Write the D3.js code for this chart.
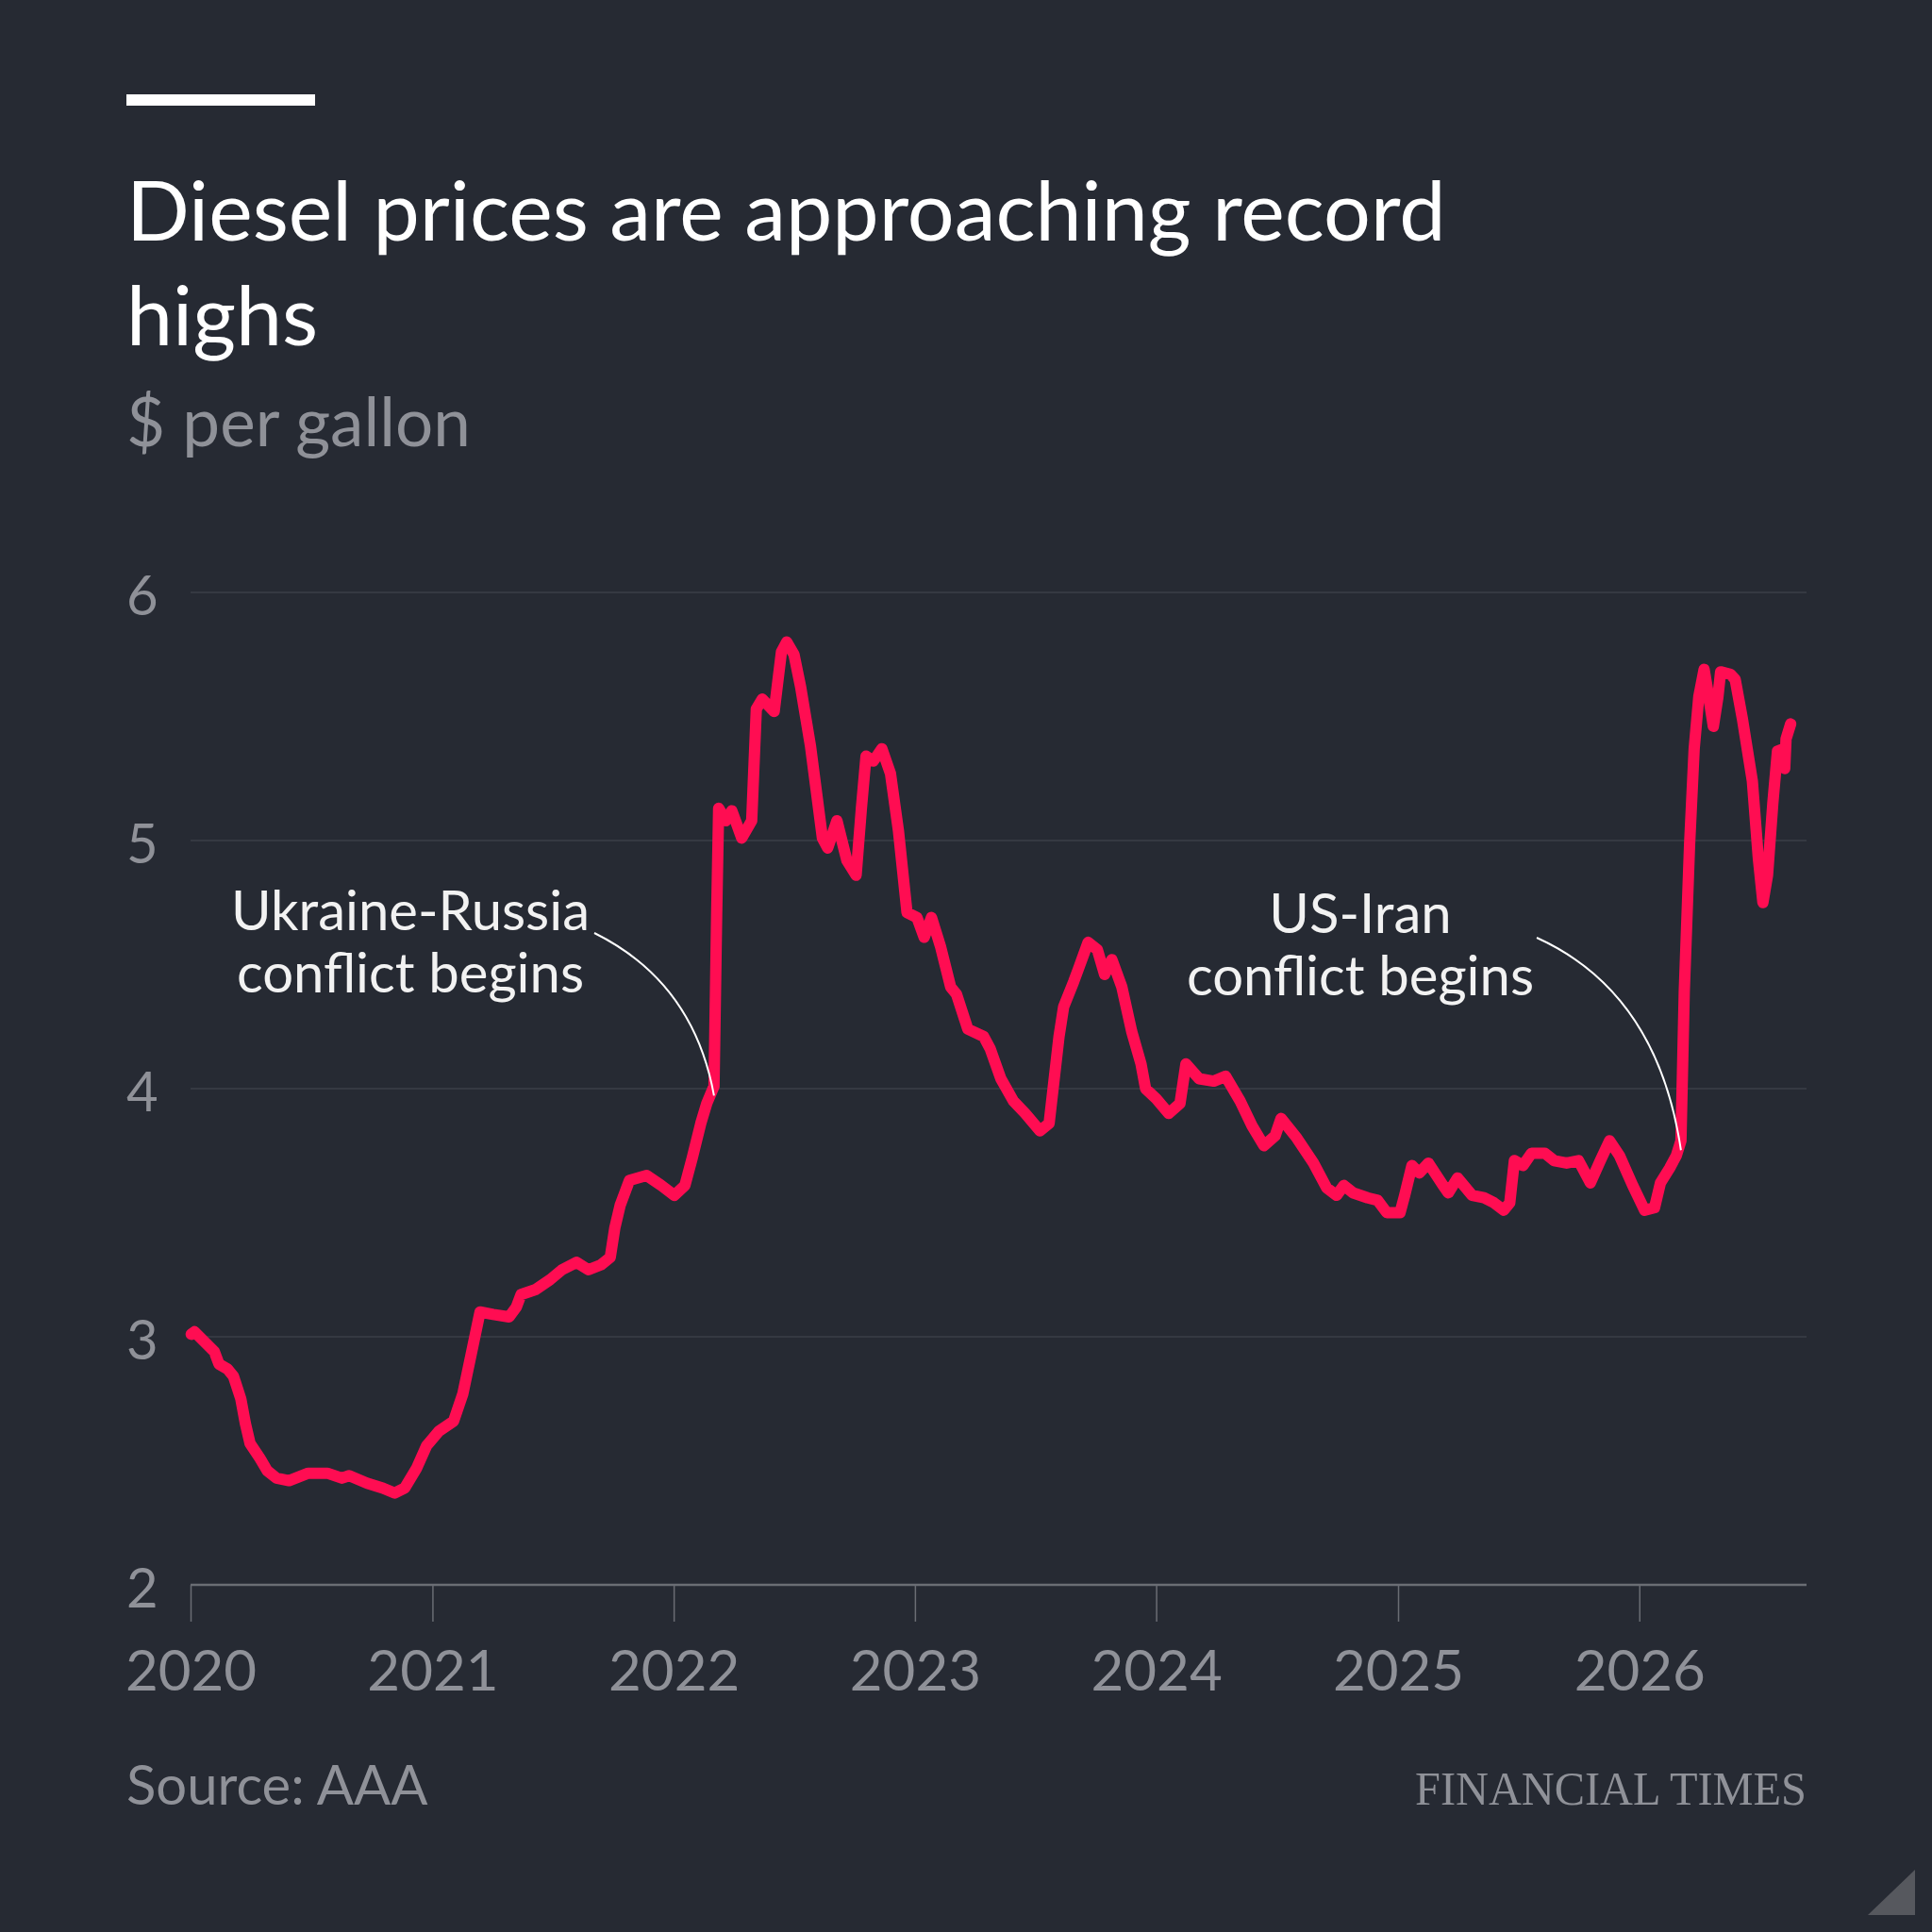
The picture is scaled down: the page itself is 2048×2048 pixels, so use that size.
<!DOCTYPE html>
<html>
<head>
<meta charset="utf-8">
<script src="https://cdn.jsdelivr.net/npm/d3@7"></script>
<style>
  html, body { margin: 0; padding: 0; background: #262a33; }
  svg { display: block; }
</style>
</head>
<body>
<script>
// weekly-ish readings of the AAA diesel average, $ per gallon
var dates = [
  "2020-01-02","2020-01-07","2020-01-22","2020-02-06","2020-02-13","2020-02-26","2020-03-06","2020-03-17",
  "2020-03-24","2020-03-31","2020-04-15","2020-04-26","2020-05-10","2020-05-29","2020-06-27","2020-07-26",
  "2020-08-17","2020-08-28","2020-09-24","2020-10-18","2020-11-05","2020-11-20","2020-12-08","2020-12-23",
  "2021-01-11","2021-02-02","2021-02-16","2021-03-03","2021-03-14","2021-04-03","2021-04-27","2021-05-08",
  "2021-05-15","2021-06-06","2021-06-28","2021-07-16","2021-08-07","2021-08-25","2021-09-13","2021-09-27",
  "2021-10-04","2021-10-12","2021-10-26","2021-11-21","2021-12-13",
  "2022-01-02","2022-01-18","2022-01-29","2022-02-11","2022-02-20","2022-03-03","2022-03-07","2022-03-10",
  "2022-03-21","2022-03-30","2022-04-14","2022-04-29","2022-05-06","2022-05-15","2022-06-02","2022-06-13",
  "2022-06-21","2022-07-02","2022-07-12","2022-07-27","2022-08-14","2022-08-22","2022-09-05","2022-09-20",
  "2022-10-04","2022-10-12","2022-10-19","2022-10-30","2022-11-12","2022-11-25","2022-12-07","2022-12-20",
  "2023-01-04","2023-01-15","2023-01-26","2023-02-09","2023-02-24","2023-03-05","2023-03-22","2023-04-15",
  "2023-04-25","2023-05-11","2023-05-30","2023-06-17","2023-07-09","2023-07-23","2023-08-07","2023-08-14",
  "2023-08-29","2023-09-05","2023-09-20","2023-10-04","2023-10-15","2023-10-26","2023-11-10","2023-11-25",
  "2023-12-09","2023-12-16",
  "2024-01-01","2024-01-20","2024-02-06","2024-02-15","2024-03-06","2024-03-28","2024-04-15","2024-05-07",
  "2024-05-25","2024-06-12","2024-06-29","2024-07-08","2024-08-01","2024-08-26","2024-09-15","2024-09-30",
  "2024-10-11","2024-10-25","2024-11-16","2024-12-01","2024-12-15",
  "2025-01-04","2025-01-11","2025-01-22","2025-02-02","2025-02-16","2025-03-10","2025-03-18","2025-04-01",
  "2025-04-23","2025-05-11","2025-05-26","2025-06-10","2025-06-19","2025-06-26","2025-07-09","2025-07-22",
  "2025-08-11","2025-08-25","2025-09-13","2025-10-01","2025-10-19","2025-11-03","2025-11-17","2025-12-02",
  "2025-12-22",
  "2026-01-09","2026-01-24","2026-02-02","2026-02-16","2026-02-26","2026-03-05","2026-03-10","2026-03-18",
  "2026-03-25","2026-04-01","2026-04-09","2026-04-16","2026-04-23","2026-04-30","2026-05-04","2026-05-19",
  "2026-05-26","2026-06-06","2026-06-21","2026-06-30","2026-07-07","2026-07-14","2026-07-22","2026-07-29",
  "2026-08-07","2026-08-09","2026-08-11","2026-08-18"
];
var prices = [
  3.01,3.02,2.98,2.94,2.89,2.87,2.84,2.75,
  2.65,2.57,2.51,2.46,2.43,2.42,2.45,2.45,
  2.43,2.44,2.41,2.39,2.37,2.39,2.47,2.56,
  2.62,2.66,2.77,2.96,3.10,3.09,3.08,3.12,
  3.17,3.19,3.23,3.27,3.30,3.27,3.29,3.32,
  3.44,3.53,3.63,3.65,3.61,
  3.57,3.61,3.72,3.86,3.94,4.01,4.70,5.13,
  5.08,5.12,5.01,5.08,5.53,5.57,5.52,5.76,
  5.80,5.75,5.62,5.38,5.01,4.97,5.08,4.92,
  4.86,5.13,5.34,5.32,5.37,5.27,5.04,4.71,
  4.69,4.61,4.69,4.57,4.41,4.38,4.24,4.21,
  4.16,4.04,3.95,3.90,3.83,3.86,4.21,4.33,
  4.43,4.48,4.59,4.56,4.46,4.52,4.41,4.23,
  4.10,4.00,
  3.96,3.90,3.94,4.10,4.04,4.03,4.05,3.95,
  3.85,3.77,3.81,3.88,3.80,3.70,3.60,3.57,
  3.61,3.58,3.56,3.55,3.50,
  3.50,3.57,3.69,3.66,3.70,3.61,3.58,3.64,
  3.57,3.56,3.54,3.51,3.54,3.71,3.69,3.74,
  3.74,3.71,3.70,3.71,3.62,3.71,3.79,3.73,
  3.61,
  3.51,3.52,3.62,3.68,3.73,3.79,4.39,4.98,
  5.37,5.58,5.69,5.58,5.46,5.58,5.68,5.67,
  5.65,5.49,5.24,4.93,4.75,4.86,5.15,5.36,
  5.37,5.29,5.41,5.47
];

var yTicks = [2, 3, 4, 5, 6];
var yearTicks = ["2020","2021","2022","2023","2024","2025","2026"];

// annotations: label lines + the date the pointer lands on
var noteLabels = [["Ukraine-Russia", "conflict begins"], ["US-Iran", "conflict begins"]];
var noteDates = ["2022-03-03", "2026-03-05"];

var titleLines = ["Diesel prices are approaching record", "highs"];
var subtitle = "$ per gallon";
var source = "Source: AAA";

var W = 2048, H = 2048;
// note: "top" is taken by window.top, so plot edges get their own names
var plotL = 202, plotR = 1915, plotT = 628, plotB = 1680;

var parseDate = d3.timeParse("%Y-%m-%d");
var data = dates.map(function(d, i) { return {date: parseDate(d), value: prices[i]}; });

var x = d3.scaleTime()
    .domain([parseDate("2020-01-01"), parseDate("2026-09-11")])
    .range([plotL, plotR]);
var y = d3.scaleLinear().domain([2, 6]).range([plotB, plotT]);

var svg = d3.select("body").append("svg")
    .attr("width", W)
    .attr("height", H);

svg.append("rect").attr("width", W).attr("height", H).attr("fill", "#262a33");

var sans = "Lato, 'Noto Sans', sans-serif";
var grey = "#8f9198";

// header bar
svg.append("rect")
    .attr("x", 134).attr("y", 100)
    .attr("width", 200).attr("height", 12)
    .attr("fill", "#ffffff");

svg.selectAll("text.title")
    .data(titleLines)
  .enter().append("text")
    .attr("class", "title")
    .attr("x", 134)
    .attr("y", function(d, i) { return 255 + i * 111; })
    .attr("fill", "#ffffff")
    .style("font-family", sans)
    .style("font-size", "88px")
    .text(function(d) { return d; });

svg.append("text")
    .attr("x", 134).attr("y", 473)
    .attr("fill", grey)
    .style("font-family", sans)
    .style("font-size", "71px")
    .text(subtitle);

// gridlines
svg.append("g")
    .selectAll("line")
    .data(yTicks.filter(function(t) { return t > 2; }))
  .enter().append("line")
    .attr("x1", plotL).attr("x2", plotR)
    .attr("y1", function(d) { return y(d); })
    .attr("y2", function(d) { return y(d); })
    .attr("stroke", "#3b3f48")
    .attr("stroke-width", 1.5);

// y labels
svg.append("g")
    .selectAll("text")
    .data(yTicks)
  .enter().append("text")
    .attr("x", 134)
    .attr("y", function(d) { return y(d) + 24; })
    .attr("fill", grey)
    .style("font-family", sans)
    .style("font-size", "58px")
    .text(function(d) { return d; });

// x axis
var xAxis = d3.axisBottom(x)
    .tickValues(yearTicks.map(function(t) { return parseDate(t + "-01-01"); }))
    .tickFormat(d3.timeFormat("%Y"))
    .tickSize(39)
    .tickPadding(30);

var gx = svg.append("g")
    .attr("transform", "translate(0," + plotB + ")")
    .call(xAxis);
gx.select(".domain").remove();
gx.selectAll(".tick line").attr("stroke", "#6a6d74").attr("stroke-width", 1.5);
gx.selectAll(".tick text")
    .attr("fill", grey)
    .style("font-family", sans)
    .style("font-size", "60px");

svg.append("line")
    .attr("x1", plotL).attr("x2", plotR)
    .attr("y1", plotB).attr("y2", plotB)
    .attr("stroke", "#6a6d74")
    .attr("stroke-width", 2.5);

// the price line
var valueline = d3.line()
    .x(function(d) { return x(d.date); })
    .y(function(d) { return y(d.value); });

svg.append("path")
    .datum(data)
    .attr("d", valueline)
    .attr("fill", "none")
    .attr("stroke", "#ff0d52")
    .attr("stroke-width", 12)
    .attr("stroke-linejoin", "round")
    .attr("stroke-linecap", "round");

// annotations
var noteAnchors = [[435, 986], [1442, 989]];
var noteStarts = [[630, 989], [1629, 994]];
var noteBends = [[735, 1041], [1757, 1052]];

noteLabels.forEach(function(lines, k) {
    var g = svg.append("g");
    g.selectAll("text")
        .data(lines)
      .enter().append("text")
        .attr("x", noteAnchors[k][0])
        .attr("y", function(d, i) { return noteAnchors[k][1] + i * 66; })
        .attr("text-anchor", "middle")
        .attr("fill", "#f2f2f2")
        .style("font-family", sans)
        .style("font-size", "58px")
        .text(function(d) { return d; });

    var d0 = parseDate(noteDates[k]);
    var end = [x(d0), y(data.find(function(p) { return p.date >= d0; }).value) + 10];
    var p = d3.path();
    p.moveTo(noteStarts[k][0], noteStarts[k][1]);
    p.quadraticCurveTo(noteBends[k][0], noteBends[k][1], end[0], end[1]);
    g.append("path")
        .attr("d", p.toString())
        .attr("fill", "none")
        .attr("stroke", "#ffffff")
        .attr("stroke-width", 2);
});

// footer
svg.append("text")
    .attr("x", 134).attr("y", 1913)
    .attr("fill", grey)
    .style("font-family", sans)
    .style("font-size", "58px")
    .text(source);

svg.append("text")
    .attr("x", 1915).attr("y", 1913)
    .attr("text-anchor", "end")
    .attr("fill", grey)
    .attr("textLength", 415)
    .attr("lengthAdjust", "spacingAndGlyphs")
    .style("font-family", "'Liberation Serif', 'DejaVu Serif', serif")
    .style("font-size", "50px")
    .text("FINANCIAL TIMES");

// corner mark
svg.append("path")
    .attr("d", "M1980,2030L2030,1982L2030,2030Z")
    .attr("fill", "#56585e");
</script>
</body>
</html>
